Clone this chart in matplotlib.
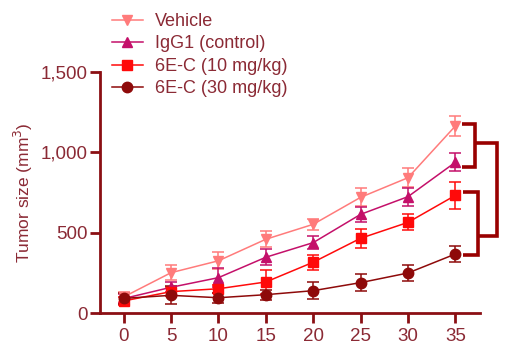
import matplotlib
matplotlib.use("Agg")
import matplotlib.pyplot as plt
from matplotlib.lines import Line2D

days = [0, 5, 10, 15, 20, 25, 30, 35]
vehicle = [100, 251, 325, 459, 552, 720, 842, 1164]
vehicle_err = [30, 48, 52, 50, 35, 55, 58, 62]
igg1 = [90, 160, 220, 347, 438, 614, 724, 938]
igg1_err = [30, 30, 58, 50, 40, 45, 55, 55]
ec10 = [75, 133, 151, 193, 316, 465, 564, 732]
ec10_err = [25, 30, 25, 75, 47, 60, 50, 85]
ec30 = [91, 110, 95, 114, 139, 189, 249, 367]
ec30_err = [35, 55, 30, 30, 54, 54, 50, 52]
labels = ["Vehicle", "IgG1 (control)", "6E-C (10 mg/kg)", "6E-C (30 mg/kg)"]
yticks = [0, 500, 1000, 1500]
ytick_labels = ["0", "500", "1,000", "1,500"]

plt.rcParams['font.family'] = ['Liberation Sans', 'DejaVu Sans']
axis_col = "#8B0F14"
text_col = "#8B2A35"
cols = ["#FF7B7B", "#C4106A", "#FF0A0A", "#8E0A0A"]
markers = ["v", "^", "s", "o"]
series = [(vehicle, vehicle_err), (igg1, igg1_err), (ec10, ec10_err), (ec30, ec30_err)]

fig = plt.figure(figsize=(5.17, 3.48), dpi=100)
ax = fig.add_axes([100/517, 35/348, 380/517, 241/348])

for (vals, err), c, m in zip(series, cols, markers):
    ax.errorbar(days, vals, yerr=err, color=c, marker=m, markersize=7.5,
                lw=1.1, elinewidth=1.1, capsize=4, capthick=1.1, clip_on=False, zorder=3)

ax.set_xlim(-2.5, 37.6)
ax.set_ylim(0, 1500)
ax.set_xticks(days)
ax.set_yticks(yticks)
ax.set_yticklabels(ytick_labels)
for s in ["top", "right"]:
    ax.spines[s].set_visible(False)
for s in ["left", "bottom"]:
    ax.spines[s].set_color(axis_col)
    ax.spines[s].set_linewidth(2)
ax.tick_params(axis="both", colors=axis_col, width=2, length=7, labelsize=13.5,
               labelcolor=text_col)
ax.tick_params(axis="x", pad=4)
ax.tick_params(axis="y", pad=2)
ax.set_ylabel("Tumor size (mm$^3$)", color=text_col, fontsize=12.5, labelpad=4)

# significance brackets
bc = "#990000"
blw = 2.6
def bracket(x0, xv, y1, y2):
    ax.plot([x0, xv, xv, x0], [y1, y1, y2, y2], color=bc, lw=blw, clip_on=False,
            solid_joinstyle="miter", solid_capstyle="butt")
bracket(35.75, 37.1, vehicle[-1] + 12, igg1[-1] - 28)
bracket(35.8, 37.35, ec10[-1] + 22, ec30[-1] - 6)
ax.plot([37.1, 39.4, 39.4, 37.35], [1056, 1056, 479, 479], color=bc, lw=blw,
        clip_on=False, solid_joinstyle="miter", solid_capstyle="butt")

handles = [Line2D([], [], color=c, marker=m, markersize=7.5, lw=1.1) for c, m in zip(cols, markers)]
leg = fig.legend(handles, labels, loc="upper left", bbox_to_anchor=(112/517, 1 - 13/348),
                 frameon=False, fontsize=13, handlelength=1.7, handletextpad=0.7,
                 labelspacing=0.3, borderaxespad=0, borderpad=0)
for t in leg.get_texts():
    t.set_color(text_col)

fig.savefig("out.png", dpi=100)
